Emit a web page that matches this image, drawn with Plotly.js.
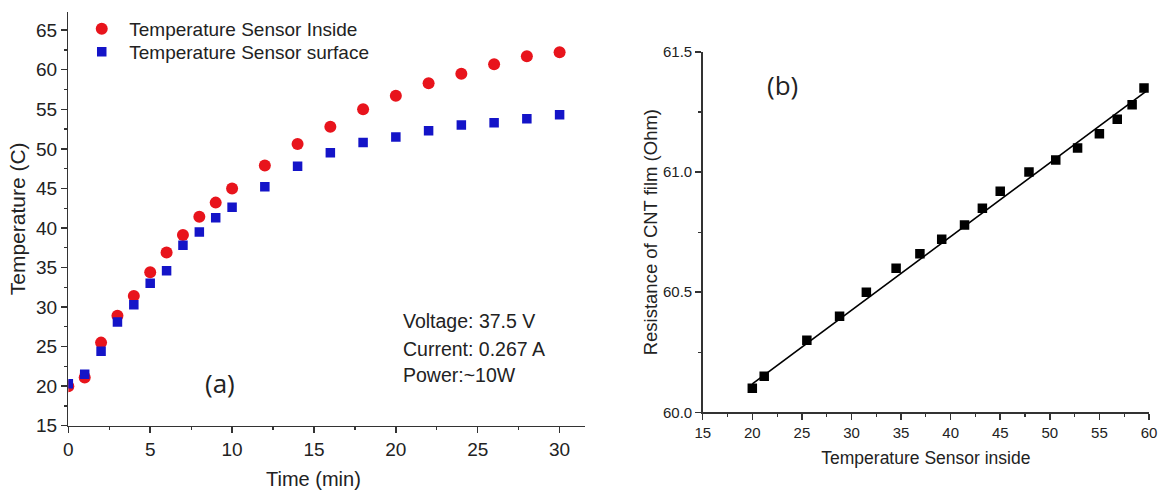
<!DOCTYPE html>
<html>
<head>
<meta charset="utf-8">
<script src="https://cdn.plot.ly/plotly-3.0.1.min.js"></script>
<style>html,body{margin:0;padding:0;background:#fff;}#chart{width:1160px;height:494px;}</style>
</head>
<body>
<div id="chart"></div>
<script>
// Panel (a): heating curve
const timeMin = [0, 1, 2, 3, 4, 5, 6, 7, 8, 9, 10, 12, 14, 16, 18, 20, 22, 24, 26, 28, 30];
const tempInside = [20.0, 21.1, 25.5, 28.9, 31.4, 34.4, 36.9, 39.1, 41.4, 43.2, 45.0, 47.9, 50.6, 52.8, 55.0, 56.7, 58.3, 59.5, 60.7, 61.7, 62.2];
const tempSurface = [20.3, 21.5, 24.4, 28.1, 30.3, 33.0, 34.6, 37.8, 39.5, 41.3, 42.6, 45.2, 47.8, 49.5, 50.8, 51.5, 52.3, 53.0, 53.3, 53.8, 54.3];

// Panel (b): resistance vs inside temperature
const bTemp = [20.0, 21.2, 25.5, 28.8, 31.5, 34.5, 36.9, 39.1, 41.4, 43.2, 45.0, 47.9, 50.6, 52.8, 55.0, 56.8, 58.3, 59.5];
const bResistance = [60.10, 60.15, 60.30, 60.40, 60.50, 60.60, 60.66, 60.72, 60.78, 60.85, 60.92, 61.00, 61.05, 61.10, 61.16, 61.22, 61.28, 61.35];
const fitTemp = [20.0, 59.7];
const fitResistance = [60.118, 61.336];

const seriesNames = ["Temperature Sensor Inside", "Temperature Sensor surface"];
const infoLines = ["Voltage: 37.5 V", "Current: 0.267 A", "Power:~10W"];

const F = "Liberation Sans, Arial, sans-serif";
const axCol = "#333";

const traces = [
  {x: timeMin, y: tempInside, type: "scatter", mode: "markers", name: seriesNames[0], legend: "legend",
   marker: {symbol: "circle", size: 12, color: "#e8141c"}, xaxis: "x", yaxis: "y"},
  {x: timeMin, y: tempSurface, type: "scatter", mode: "markers", name: seriesNames[1], legend: "legend2",
   marker: {symbol: "square", size: 9.5, color: "#1414c8"}, xaxis: "x", yaxis: "y"},
  {x: bTemp, y: bResistance, type: "scatter", mode: "markers", showlegend: false,
   marker: {symbol: "square", size: 9.5, color: "#000"}, xaxis: "x2", yaxis: "y2"},
  {x: fitTemp, y: fitResistance, type: "scatter", mode: "lines", showlegend: false,
   line: {color: "#000", width: 1.6}, xaxis: "x2", yaxis: "y2"}
];

function axisBase(extra) {
  return Object.assign({
    showgrid: false, zeroline: false, showline: true, linecolor: axCol, linewidth: 1.5,
    ticks: "outside", ticklen: 6, tickwidth: 1.5, tickcolor: axCol,
    mirror: false, automargin: false
  }, extra);
}

function legendAt(yPix) {
  return {x: 0.064, y: 1 - yPix / 494, xanchor: "left", yanchor: "middle", bgcolor: "rgba(0,0,0,0)",
          font: {family: F, size: 19, color: "#222"}, itemwidth: 45};
}

const layout = {
  width: 1160, height: 494,
  margin: {l: 0, r: 0, t: 0, b: 0},
  paper_bgcolor: "#fff", plot_bgcolor: "#fff",
  font: {family: F, color: "#222"},
  showlegend: true,
  legend: legendAt(29),
  legend2: legendAt(52),
  xaxis: axisBase({domain: [0.0589, 0.5043], range: [0, 31.55], anchor: "y",
    tickvals: [0, 5, 10, 15, 20, 25, 30], tickfont: {size: 19, family: F, color: "#222"},
    minor: {dtick: 2.5, tick0: 0, ticks: "outside", ticklen: 3, tickcolor: axCol, tickwidth: 1.2}}),
  yaxis: axisBase({domain: [0.1383, 0.9757], range: [15, 67.3], anchor: "x",
    tickvals: [15, 20, 25, 30, 35, 40, 45, 50, 55, 60, 65], tickfont: {size: 19, family: F, color: "#222"},
    minor: {dtick: 2.5, tick0: 0, ticks: "outside", ticklen: 3, tickcolor: axCol, tickwidth: 1.2},
    title: {text: "Temperature (C)", font: {size: 21, family: F, color: "#222"}, standoff: 4}}),
  xaxis2: axisBase({domain: [0.6058, 0.9905], range: [15, 60], anchor: "y2",
    tickvals: [15, 20, 25, 30, 35, 40, 45, 50, 55, 60], tickfont: {size: 15, family: F, color: "#222"},
    minor: {dtick: 2.5, tick0: 0, ticks: "outside", ticklen: 3, tickcolor: axCol, tickwidth: 1.2},
    title: {text: "Temperature Sensor inside", font: {size: 17.5, family: F, color: "#222"}, standoff: 12}}),
  yaxis2: axisBase({domain: [0.1654, 0.8947], range: [60, 61.5], anchor: "x2",
    tickvals: [60.0, 60.5, 61.0, 61.5], ticktext: ["60.0", "60.5", "61.0", "61.5"],
    tickfont: {size: 15, family: F, color: "#222"},
    minor: {dtick: 0.25, tick0: 60, ticks: "outside", ticklen: 3, tickcolor: axCol, tickwidth: 1.2},
    title: {text: "Resistance of CNT film (Ohm)", font: {size: 18.5, family: F, color: "#222"}, standoff: 0}}),
  annotations: [
    {text: "Time (min)", x: 15, y: 1 - 479 / 494, xref: "x", yref: "paper", yanchor: "middle", showarrow: false,
     font: {family: F, size: 20, color: "#222"}},
    {text: "(a)", x: 9.26, y: 20.4, xref: "x", yref: "y", showarrow: false,
     font: {family: "Open Sans, sans-serif", size: 26, color: "#222"}},
    {text: infoLines[0], x: 20.3, y: 28.2, xref: "x", yref: "y", xanchor: "left", showarrow: false,
     font: {family: F, size: 19.5, color: "#222"}},
    {text: infoLines[1], x: 20.3, y: 24.65, xref: "x", yref: "y", xanchor: "left", showarrow: false,
     font: {family: F, size: 19.5, color: "#222"}},
    {text: infoLines[2], x: 20.3, y: 21.4, xref: "x", yref: "y", xanchor: "left", showarrow: false,
     font: {family: F, size: 19.5, color: "#222"}},
    {text: "(b)", x: 23.0, y: 61.364, xref: "x2", yref: "y2", showarrow: false,
     font: {family: "Open Sans, sans-serif", size: 26, color: "#222"}}
  ]
};

Plotly.newPlot("chart", traces, layout, {staticPlot: true, displayModeBar: false});
</script>
</body>
</html>
